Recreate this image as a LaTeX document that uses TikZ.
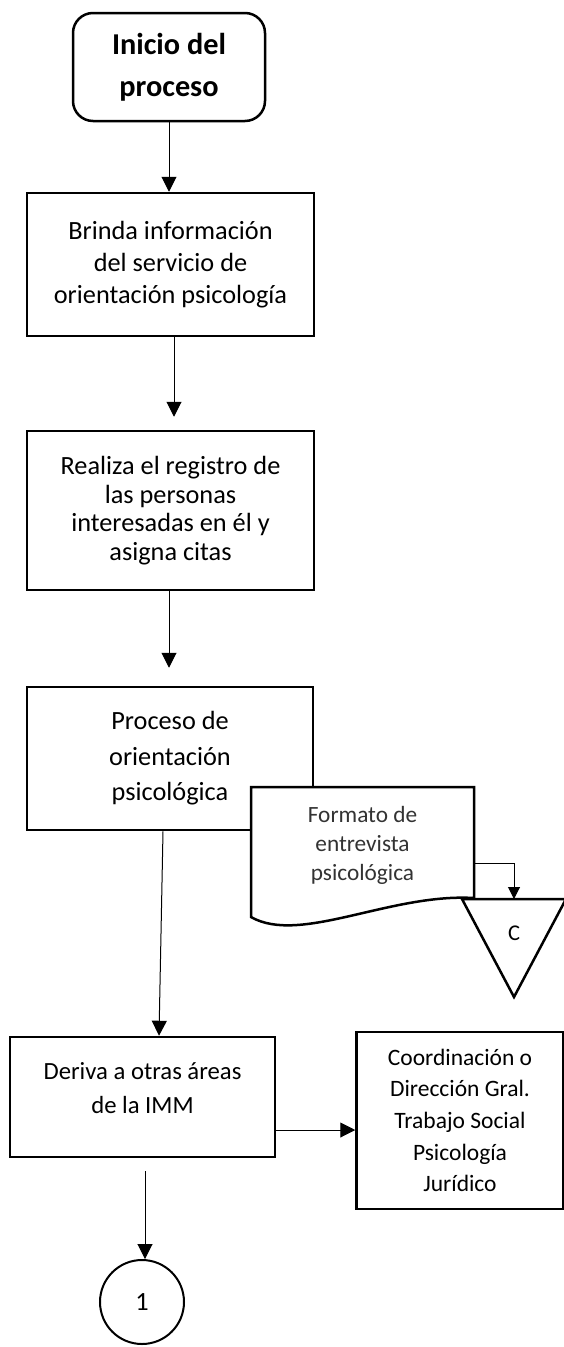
\documentclass[tikz,border=0pt]{standalone}
\usepackage{fontspec}
\setmainfont{Carlito}
\usetikzlibrary{arrows.meta,positioning,calc}

\begin{document}
\begin{tikzpicture}[x=1pt,y=-1pt,
  stepbox/.style={draw,line width=2.5pt,fill=white,align=center,inner sep=0pt},
  arr/.style={line width=1pt,-{Triangle[width=15pt,length=15pt]}}]
  \useasboundingbox (0,0) rectangle (564,1347);
  % process boxes
  \node[stepbox,rounded corners=20pt,minimum width=192pt,minimum height=108pt,
        font=\bfseries\fontsize{30.3}{42}\selectfont] (start) at (169,67) {Inicio del\\proceso};
  \node[stepbox,minimum width=287pt,minimum height=143pt,
        font=\fontsize{26.3}{31.7}\selectfont] (info) at (170.5,264.5)
        {Brinda información\\del servicio de\\orientación psicología};
  \node[stepbox,minimum width=287pt,minimum height=159pt,
        font=\fontsize{26.3}{28.7}\selectfont] (reg) at (170.5,510.5)
        {Realiza el registro de\\las personas\\interesadas en él y\\asigna citas};
  \node[stepbox,minimum width=286pt,minimum height=143pt,
        font=\fontsize{26.3}{35.5}\selectfont] (proc) at (170,758.5)
        {Proceso de\\orientación\\psicológica};
  % document and off-page mark
  \draw[line width=2.5pt,fill=white] (251,787) -- (474,787) -- (474,898)
    .. controls (390,893) and (300,945) .. (251,917) -- cycle;
  \node[align=center,inner sep=0pt,minimum width=223pt,minimum height=112pt,text=black!80,
        font=\fontsize{23.3}{29}\selectfont] (doc) at (362.5,845)
        {Formato de\\entrevista\\psicológica};
  \draw[line width=2.5pt,line join=miter] (462,899) -- (566,899) -- (514,997) -- cycle;
  \coordinate (triTop) at (514,899);
  \node[font=\fontsize{22.5}{26}\selectfont] (tri) at (514,933) {C};
  \node[stepbox,minimum width=265pt,minimum height=120pt,text depth=18pt,
        font=\fontsize{24.7}{34}\selectfont] (deriva) at (142.5,1097)
        {Deriva a otras áreas\\de la IMM};
  \node[stepbox,minimum width=207pt,minimum height=177pt,
        font=\fontsize{23.5}{31.6}\selectfont] (dest) at (460,1120.5)
        {Coordinación o\\Dirección Gral.\\Trabajo Social\\Psicología\\Jurídico};
  \node[stepbox,circle,minimum size=84pt,line width=2pt,
        font=\fontsize{26.3}{30}\selectfont] (one) at (142,1302) {1};
  % connectors
  \draw[arr] (start.south) -- (start.south |- info.north);
  \draw[arr,shorten >=13pt] ([xshift=3.5pt]info.south) -- ([xshift=3.5pt]reg.north);
  \draw[arr,shorten >=18pt] ([xshift=-1.5pt]reg.south) -- ([xshift=-1.5pt]reg.south |- proc.north);
  \draw[arr] ([xshift=-7pt]proc.south) -- ([xshift=16.5pt]deriva.north);
  \draw[line width=1pt,-{Triangle[width=12pt,length=12pt]}] ([yshift=-18pt]doc.east) -| (triTop);
  \draw[arr] ([yshift=-33pt]deriva.east) -- ([yshift=-33pt]deriva.east -| dest.west);
  \draw[arr,shorten <=13pt] ([xshift=2.5pt]deriva.south) -- ([xshift=2.5pt]deriva.south |- one.north);
\end{tikzpicture}
\end{document}
